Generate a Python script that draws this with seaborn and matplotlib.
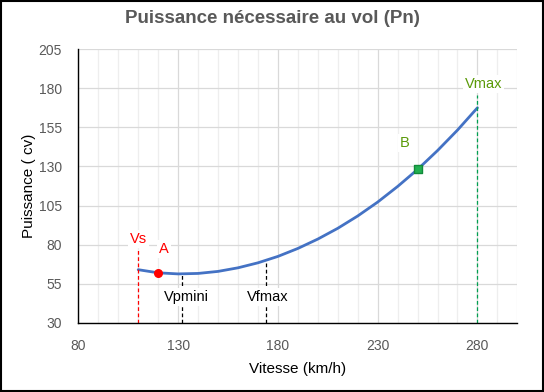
import matplotlib
matplotlib.use("Agg")
import matplotlib.pyplot as plt
import seaborn as sns
import numpy as np
import pandas as pd

# data
vitesse = [110, 120, 130, 140, 150, 160, 170, 180, 190, 200,
           210, 220, 230, 240, 250, 260, 270, 280]
puissance = [63.9, 61.9, 61.2, 61.5, 62.8, 65.1, 68.3, 72.4, 77.5, 83.5,
             90.4, 98.3, 107.2, 117.2, 128.1, 140.2, 153.3, 167.6]

x_ticks = [80, 130, 180, 230, 280]
y_ticks = [30, 55, 80, 105, 130, 155, 180, 205]

v_s, v_pmini, v_fmax, v_max = 110, 132, 174, 280
p_pmini, p_fmax = 61.2, 69.5
point_a = (120, 61.9)
point_b = (250, 128.1)

sns.set_style("white")
plt.rcParams['font.family'] = ['Liberation Sans', 'DejaVu Sans']

df = pd.DataFrame({"Vitesse": vitesse, "Puissance": puissance})

fig = plt.figure(figsize=(5.44, 3.92), dpi=100)
ax = fig.add_axes([0.144, 0.177, 0.807, 0.697])

ax.set_xlim(80, 300)
ax.set_ylim(30, 205)
ax.set_xticks(x_ticks)
ax.set_xticks(np.arange(80, 301, 10), minor=True)
ax.set_yticks(y_ticks)
ax.set_yticks(np.arange(30, 206, 5), minor=True)

# grid
ax.grid(which='minor', axis='x', color='#eeeeee', linewidth=0.9)
ax.grid(which='major', axis='x', color='#d9d9d9', linewidth=0.9)
ax.grid(which='major', axis='y', color='#d9d9d9', linewidth=0.9)
ax.set_axisbelow(True)

sns.lineplot(data=df, x="Vitesse", y="Puissance", ax=ax, color='#4472C4', linewidth=2)

# reference lines
ax.plot([v_s, v_s], [30, 77.6], color='red', linestyle=(0, (3, 2)), linewidth=0.9)
ax.plot([v_pmini, v_pmini], [30, p_pmini], color='black', linestyle=(0, (3, 2)), linewidth=0.9)
ax.plot([v_fmax, v_fmax], [30, p_fmax], color='black', linestyle=(0, (3, 2)), linewidth=0.9)
ax.plot([v_max, v_max], [30, 176], color='#00a050', linestyle=(0, (3, 2)), linewidth=0.9)

ax.scatter([point_a[0]], [point_a[1]], s=30, color='red', zorder=5)
ax.scatter([point_b[0]], [point_b[1]], s=30, marker='s', color='#22b050', edgecolor='#118a3a', zorder=5)

box = dict(facecolor='white', edgecolor='none', pad=1.5)
ax.text(110, 83.5, "Vs", color='red', fontsize=10.5, ha='center', va='center', bbox=box)
ax.text(123, 77, "A", color='red', fontsize=10.5, ha='center', va='center', bbox=box)
ax.text(134, 46.5, "Vpmini", color='black', fontsize=10.5, ha='center', va='center', bbox=box)
ax.text(175, 46.5, "Vfmax", color='black', fontsize=10.5, ha='center', va='center', bbox=box)
ax.text(243.5, 145, "B", color='#5a9a08', fontsize=10.5, ha='center', va='center', bbox=box)
ax.text(283, 183, "Vmax", color='#5a9a08', fontsize=10.5, ha='center', va='center', bbox=box)

ax.tick_params(which='both', direction='in', color='black', labelcolor='#595959', labelsize=10)
ax.tick_params(which='both', length=4, width=1)
ax.tick_params(axis='x', pad=12)
ax.tick_params(axis='y', pad=12)
for s in ['top', 'right']:
    ax.spines[s].set_visible(False)
for s in ['left', 'bottom']:
    ax.spines[s].set_color('black')
    ax.spines[s].set_linewidth(1)

ax.set_xlabel("Vitesse (km/h)", fontsize=11, color='black', labelpad=6)
ax.set_ylabel("Puissance ( cv)", fontsize=11, color='black', labelpad=2)

fig.suptitle("Puissance nécessaire au vol (Pn)", x=0.5, y=0.975, fontsize=13.5,
             fontweight='bold', color='#595959')

# outer frame
fig.patches.append(plt.Rectangle((0.002, 0.002), 0.996, 0.996, transform=fig.transFigure,
                                 fill=False, edgecolor='black', linewidth=1.5))

fig.savefig("out.png", dpi=100)
